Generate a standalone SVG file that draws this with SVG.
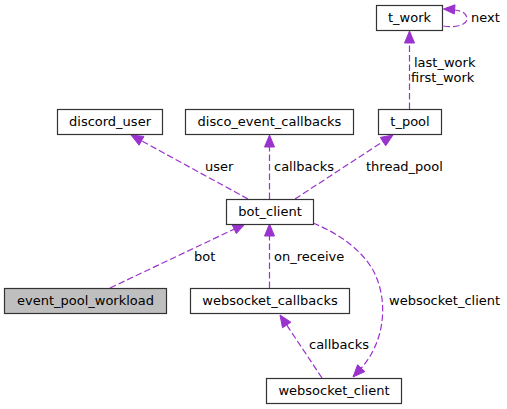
<svg xmlns="http://www.w3.org/2000/svg" width="507" height="409" viewBox="0 0 507 409">
<style>
text{font-family:"DejaVu Sans",sans-serif;font-size:13px;fill:#000}
.n rect{fill:#fff;stroke:#333;stroke-width:1.2}
.n text{text-anchor:middle}
.e path{fill:none;stroke:#9a32cd;stroke-width:1.2;stroke-dasharray:6.5,3}
.e polygon{fill:#9a32cd;stroke:#9a32cd;stroke-width:1}
</style>
<rect width="507" height="409" fill="#fff"/>
<g id="connectors" class="e">
<path d="M248,199 L141.5,140.8"/>
<polygon points="131,135 143.9,136.4 139.1,145.2"/>
<text x="205" y="171">user</text>
<path d="M269.5,199 L269.5,147"/>
<polygon points="269.5,135 264.5,147 274.5,147"/>
<text x="274" y="171">callbacks</text>
<path d="M295,199 L383,141.6"/>
<polygon points="393,135 385.7,145.8 380.3,137.4"/>
<text x="366" y="171">thread_pool</text>
<path d="M409.5,109 L409.5,43"/>
<polygon points="409.5,31 404.5,43 414.5,43"/>
<text x="414" y="67">last_work</text>
<text x="411" y="81.5">first_work</text>
<path d="M443.5,26 C455,28 467,25 467,19 C467,13 462,11 455,10"/>
<polygon points="443.5,9 455,4.8 454.3,14"/>
<text x="471" y="22">next</text>
<path d="M110,288 L234.2,229.1"/>
<polygon points="245,224 236.3,233.6 232.1,224.6"/>
<text x="194" y="260.5">bot</text>
<path d="M269.5,288 L269.5,236"/>
<polygon points="269.5,224 264.5,236 274.5,236"/>
<text x="274" y="260.5">on_receive</text>
<path d="M322,378 L286.7,325"/>
<polygon points="280,315 290.9,322.2 282.5,327.8"/>
<text x="309" y="349">callbacks</text>
<path d="M313,223 C340,234 363,251 374,272 C388,300 386,340 361.2,368.2"/>
<polygon points="353,377 364.9,371.6 357.6,364.8"/>
<text x="389" y="305">websocket_client</text>
</g>
<g id="t_work" class="n"><rect x="376.5" y="5.5" width="66" height="25"/><text x="409.5" y="22">t_work</text></g>
<g id="t_pool" class="n"><rect x="378.5" y="109.5" width="63" height="25"/><text x="410" y="126">t_pool</text></g>
<g id="discord_user" class="n"><rect x="57.5" y="109.5" width="105" height="25"/><text x="110" y="126">discord_user</text></g>
<g id="disco_event_callbacks" class="n"><rect x="185.5" y="109.5" width="168" height="25"/><text x="269.5" y="126">disco_event_callbacks</text></g>
<g id="bot_client" class="n"><rect x="226.5" y="199.5" width="87" height="25"/><text x="270" y="216">bot_client</text></g>
<g id="event_pool_workload" class="n"><rect x="4.5" y="288.5" width="162" height="25" style="fill:#bfbfbf"/><text x="85.5" y="305">event_pool_workload</text></g>
<g id="websocket_callbacks" class="n"><rect x="190.5" y="288.5" width="159" height="25"/><text x="270" y="305">websocket_callbacks</text></g>
<g id="websocket_client" class="n"><rect x="266.5" y="378.5" width="135" height="25"/><text x="334" y="395">websocket_client</text></g>
</svg>
